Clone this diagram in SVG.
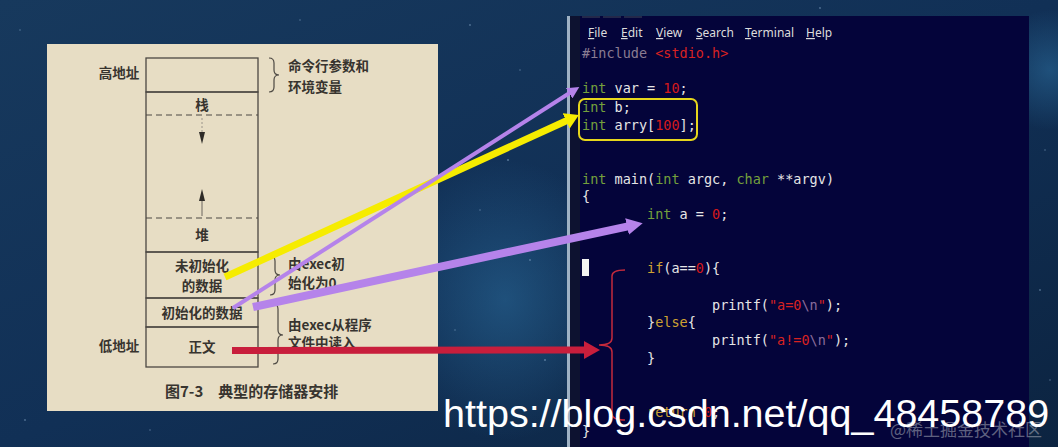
<svg xmlns="http://www.w3.org/2000/svg" width="1058" height="447" viewBox="0 0 1058 447">
<defs>
<linearGradient id="bg" x1="0" y1="0" x2="1" y2="1">
<stop offset="0" stop-color="#17395d"/>
<stop offset="0.5" stop-color="#113056"/>
<stop offset="1" stop-color="#0c2441"/>
</linearGradient>
<radialGradient id="glow" cx="0.5" cy="0.5" r="0.5">
<stop offset="0" stop-color="#2b6c9c" stop-opacity="0.55"/>
<stop offset="1" stop-color="#2b6c9c" stop-opacity="0"/>
</radialGradient>
<marker id="ah-yellow" markerUnits="userSpaceOnUse" markerWidth="14" markerHeight="17" viewBox="0 0 14 17" refX="1" refY="8.5" orient="auto"><path d="M0,0 L14,8.5 L0,17 z" fill="#f6ec00"/></marker>
<marker id="ah-purple-s" markerUnits="userSpaceOnUse" markerWidth="12" markerHeight="12" viewBox="0 0 12 12" refX="1" refY="6" orient="auto"><path d="M0,0 L12,6 L0,12 z" fill="#b583ea"/></marker>
<marker id="ah-purple-l" markerUnits="userSpaceOnUse" markerWidth="16" markerHeight="17" viewBox="0 0 16 17" refX="1" refY="8.5" orient="auto"><path d="M0,0 L16,8.5 L0,17 z" fill="#b583ea"/></marker>
<marker id="ah-red" markerUnits="userSpaceOnUse" markerWidth="16" markerHeight="18" viewBox="0 0 16 18" refX="1" refY="9" orient="auto"><path d="M0,0 L16,9 L0,18 z" fill="#c81e3c"/></marker>
<style>
.cn{font-family:"Noto Sans CJK SC","Noto Sans",sans-serif;font-size:13.5px;fill:#37342f;font-weight:600}
.cap{font-family:"Noto Sans CJK SC","Noto Sans",sans-serif;font-size:15px;fill:#37342f;font-weight:600}
.mid{text-anchor:middle}
.box{fill:none;stroke:#4c4842;stroke-width:1.3}
.dash{stroke:#4c4842;stroke-width:1.2;stroke-dasharray:6 4}
.brace{fill:none;stroke:#4c4842;stroke-width:1.2}
.code{font-family:"DejaVu Sans Mono","Liberation Mono",monospace;font-size:13.5px;fill:#e6e6e6}
.ty{fill:#74a03c}
.num{fill:#d41a1a}
.kw{fill:#cfa232}
.str{fill:#d82222}
.esc{fill:#8a6c9c}
.pre{fill:#8a7c92}
.menu{font-family:"Noto Sans","DejaVu Sans",sans-serif;font-size:12px;fill:#dcdcdc}
.ul{text-decoration:underline}
.conn{fill:none;stroke-linecap:butt}
</style>
</defs>

<!-- background -->
<rect width="1058" height="447" fill="url(#bg)"/>
<ellipse cx="505" cy="300" rx="120" ry="140" fill="url(#glow)"/>
<ellipse cx="1050" cy="70" rx="60" ry="60" fill="url(#glow)"/>
<g fill="#9fc0e0" opacity="0.45">
<circle cx="20" cy="30" r="0.8"/><circle cx="470" cy="25" r="0.9"/><circle cx="520" cy="70" r="0.8"/>
<circle cx="508" cy="160" r="1.1"/><circle cx="480" cy="210" r="0.8"/><circle cx="530" cy="260" r="0.9"/>
<circle cx="455" cy="330" r="0.8"/><circle cx="545" cy="360" r="1"/><circle cx="1045" cy="150" r="0.8"/>
<circle cx="1040" cy="290" r="0.9"/><circle cx="1050" cy="380" r="0.8"/><circle cx="25" cy="420" r="0.9"/>
<circle cx="300" cy="20" r="0.8"/><circle cx="150" cy="430" r="0.8"/><circle cx="820" cy="8" r="0.9"/>
</g>

<!-- memory layout figure -->
<g id="figure-memory">
<rect x="47" y="44" width="391" height="367" fill="#e7ddc4"/>
<g id="seg-args">
<rect class="box" x="146" y="58" width="112" height="34"/>
<text class="cn mid" x="119" y="78">高地址</text>
<path class="brace" d="M269,58 Q274,58 274,63 L274,70 Q274,75 279,75 Q274,75 274,80 L274,87 Q274,92 269,92"/>
<text class="cn" x="288" y="71">命令行参数和</text>
<text class="cn" x="288" y="92">环境变量</text>
</g>
<g id="seg-stack-heap">
<rect class="box" x="146" y="92" width="112" height="160"/>
<text class="cn mid" x="202" y="110">栈</text>
<line class="dash" x1="146" y1="115" x2="258" y2="115"/>
<line class="dash" x1="146" y1="218" x2="258" y2="218"/>
<line x1="202" y1="118" x2="202" y2="132" stroke="#9a948a" stroke-width="1" stroke-dasharray="2 2"/>
<path d="M199,132 L205,132 L202,144 z" fill="#2e2b27"/>
<line x1="202" y1="216" x2="202" y2="201" stroke="#6a655e" stroke-width="1"/>
<path d="M199,201 L205,201 L202,189 z" fill="#2e2b27"/>
<text class="cn mid" x="202" y="240">堆</text>
</g>
<g id="seg-bss">
<rect class="box" x="146" y="252" width="112" height="46"/>
<text class="cn mid" x="202" y="271">未初始化</text>
<text class="cn mid" x="202" y="291">的数据</text>
<path class="brace" d="M270,256 Q275,256 275,261 L275,270 Q275,275 280,275 Q275,275 275,280 L275,290 Q275,295 270,295"/>
<text class="cn" x="288" y="269">由exec初</text>
<text class="cn" x="288" y="288">始化为0</text>
</g>
<g id="seg-data">
<rect class="box" x="146" y="298" width="112" height="29"/>
<text class="cn mid" x="202" y="318">初始化的数据</text>
</g>
<g id="seg-text">
<rect class="box" x="146" y="327" width="112" height="40"/>
<text class="cn mid" x="119" y="351">低地址</text>
<text class="cn mid" x="202" y="352">正文</text>
<path class="brace" d="M273,304 Q278,304 278,309 L278,330 Q278,335 283,335 Q278,335 278,340 L278,359 Q278,364 273,364"/>
<text class="cn" x="288" y="330">由exec从程序</text>
<text class="cn" x="288" y="348">文件中读入</text>
</g>
<text class="cap" x="165" y="397">图7-3　典型的存储器安排</text>
</g>

<!-- terminal / code panel -->
<g id="code-panel">
<rect x="567" y="16" width="462" height="431" fill="#04043a"/>
<rect x="567" y="16" width="3" height="431" fill="#9fb2c4"/>
<rect x="570" y="16" width="10" height="431" fill="#0d1230"/>
<g fill="#23284a"><rect x="582" y="16" width="18" height="2"/><rect x="603" y="16" width="18" height="2"/><rect x="624" y="16" width="18" height="2"/></g>
<g id="menu" class="menu">
<text x="588" y="37"><tspan class="ul">F</tspan>ile</text>
<text x="621" y="37"><tspan class="ul">E</tspan>dit</text>
<text x="656" y="37"><tspan class="ul">V</tspan>iew</text>
<text x="696" y="37"><tspan class="ul">S</tspan>earch</text>
<text x="745" y="37"><tspan class="ul">T</tspan>erminal</text>
<text x="806" y="37"><tspan class="ul">H</tspan>elp</text>
</g>
<g id="code-include"><text class="code" x="582" y="58"><tspan class="pre">#include </tspan><tspan class="str">&lt;stdio.h&gt;</tspan></text></g>
<g id="code-var"><text class="code" x="582" y="93"><tspan class="ty">int</tspan> var = <tspan class="num">10</tspan>;</text></g>
<g id="code-bss">
<rect x="579" y="99" width="118" height="41" rx="6" fill="none" stroke="#e6d61c" stroke-width="2"/>
<text class="code" x="582" y="112"><tspan class="ty">int</tspan> b;</text>
<text class="code" x="582" y="130"><tspan class="ty">int</tspan> arry[<tspan class="num">100</tspan>];</text>
</g>
<g id="code-main">
<text class="code" x="582" y="184"><tspan class="ty">int</tspan> main(<tspan class="ty">int</tspan> argc, <tspan class="ty">char</tspan> **argv)</text>
<text class="code" x="582" y="201">{</text>
</g>
<g id="code-local"><text class="code" x="647" y="219"><tspan class="ty">int</tspan> a = <tspan class="num">0</tspan>;</text></g>
<rect x="582" y="259" width="7" height="17" fill="#f2f2f2"/>
<g id="code-body">
<text class="code" x="647" y="273"><tspan class="kw">if</tspan>(a==<tspan class="num">0</tspan>){</text>
<text class="code" x="712" y="310">printf(<tspan class="str">"a=0</tspan><tspan class="esc">\n</tspan><tspan class="str">"</tspan>);</text>
<text class="code" x="647" y="327">}<tspan class="kw">else</tspan>{</text>
<text class="code" x="712" y="345">printf(<tspan class="str">"a!=0</tspan><tspan class="esc">\n</tspan><tspan class="str">"</tspan>);</text>
<text class="code" x="647" y="363">}</text>
<text class="code" x="647" y="417"><tspan class="kw">return</tspan> <tspan class="num">0</tspan>;</text>
<text class="code" x="582" y="436">}</text>
<path d="M625,270 Q612,270 612,276 L612,338 Q612,345 599,345 Q612,345 612,352 L612,414 Q612,420 625,420" fill="none" stroke="#c42a3c" stroke-width="1.5"/>
</g>
</g>

<!-- connectors -->
<g id="connectors" class="conn">
<line x1="225" y1="277" x2="567" y2="120.5" stroke="#f6ec00" stroke-width="7" marker-end="url(#ah-yellow)"/>
<line x1="233" y1="308" x2="570" y2="92.8" stroke="#b583ea" stroke-width="4" marker-end="url(#ah-purple-s)"/>
<line x1="253" y1="307" x2="628" y2="226.3" stroke="#b583ea" stroke-width="8" marker-end="url(#ah-purple-l)"/>
<line x1="232" y1="350.5" x2="585" y2="350" stroke="#c81e3c" stroke-width="7" marker-end="url(#ah-red)"/>
</g>

<!-- watermarks -->
<text x="890" y="436" font-family="'Noto Sans CJK SC', sans-serif" font-size="17" fill="#a8acb8" opacity="0.55">@稀土掘金技术社区</text>
<text x="443" y="427" font-family="'Liberation Sans', Arial, sans-serif" font-size="39.5" fill="#ffffff">https://blog.csdn.net/qq_48458789</text>
</svg>
